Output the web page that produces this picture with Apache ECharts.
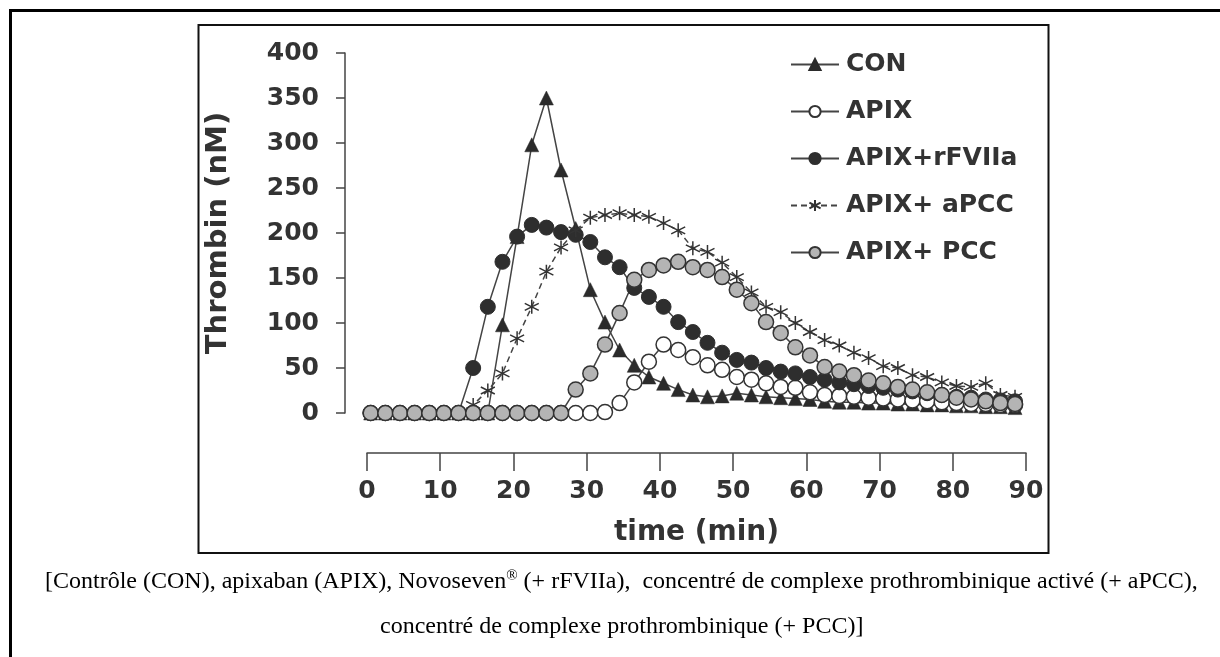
<!DOCTYPE html>
<html>
<head>
<meta charset="utf-8">
<script src="https://cdn.jsdelivr.net/npm/echarts@6/dist/echarts.min.js"></script>
<style>
html,body{margin:0;padding:0;background:#fff;}
#chart{width:1220px;height:657px;}
</style>
</head>
<body>
<div id="chart"></div>
<script>
var times = [0.5,2.5,4.5,6.5,8.5,10.5,12.5,14.5,16.5,18.5,20.5,22.5,24.5,26.5,28.5,30.5,32.5,34.5,36.5,38.5,40.5,42.5,44.5,46.5,48.5,50.5,52.5,54.5,56.5,58.5,60.5,62.5,64.5,66.5,68.5,70.5,72.5,74.5,76.5,78.5,80.5,82.5,84.5,86.5,88.5];
var seriesNames = ['CON','APIX','APIX+rFVIIa','APIX+ aPCC','APIX+ PCC'];
var conValues = [0,0,0,0,0,0,0,0,0,98,196,298,350,270,205,137,101,70,53,40,33,26,20,18,19,22,20,18,17,16,15,13,12,12,11,11,10,10,9,9,8,8,7,7,6];
var apixValues = [0,0,0,0,0,0,0,0,0,0,0,0,0,0,0,0,1,11,34,57,76,70,62,53,48,40,37,33,29,28,23,20,19,18,17,16,15,14,13,12,11,10,10,9,9];
var rfviiaValues = [0,0,0,0,0,0,0,50,118,168,196,209,206,201,198,190,173,162,139,129,118,101,90,78,67,59,56,50,46,44,40,37,34,32,30,28,26,24,22,20,18,17,15,14,13];
var apccValues = [0,0,0,0,0,0,0,9,25,44,83,118,157,184,203,217,220,222,220,218,211,203,183,179,167,151,134,118,112,100,90,81,75,67,61,52,50,42,40,34,30,29,33,20,18];
var pccValues = [0,0,0,0,0,0,0,0,0,0,0,0,0,0,26,44,76,111,148,159,164,168,162,159,151,137,122,101,89,73,64,51,46,42,36,33,29,26,23,20,17,15,13,11,10];
var yTicks = {min:0, max:400, interval:50};
var xTicks = {min:0, max:90, interval:10};
var yTitle = 'Thrombin (nM)';
var xTitle = 'time (min)';
var caption1 = '[Contrôle (CON), apixaban (APIX), Novoseven';
var caption1b = ' (+ rFVIIa),  concentré de complexe prothrombinique activé (+ aPCC),';
var caption2 = 'concentré de complexe prothrombinique (+ PCC)]';

function pairs(vals){ return times.map(function(t,i){ return [t, vals[i]]; }); }

var txt = '#333';
var lineCol = '#444';
var font = 'DejaVu Sans';
var asterisk = 'path://M5,0L5,10M0.7,2.5L9.3,7.5M9.3,2.5L0.7,7.5';

var chart = echarts.init(document.getElementById('chart'), null, {renderer:'canvas'});
chart.setOption({
  animation:false,
  backgroundColor:'#fff',
  grid:{left:367, right:194, top:53, bottom:244, containLabel:false},
  legend:{
    orient:'vertical', left:790, top:52, padding:0, itemWidth:48, itemHeight:14, itemGap:22,
    textStyle:{fontFamily:font, fontWeight:'bold', fontSize:25, color:txt, padding:[0,0,0,2]},
    data:seriesNames
  },
  xAxis:{
    type:'value', min:xTicks.min, max:xTicks.max, interval:xTicks.interval,
    offset:40,
    axisLine:{show:true, onZero:false, lineStyle:{color:lineCol, width:1.5}},
    axisTick:{show:true, inside:false, length:18, lineStyle:{color:lineCol, width:1.5}},
    axisLabel:{margin:26, fontFamily:font, fontWeight:'bold', fontSize:25, color:txt},
    splitLine:{show:false},
    name:xTitle, nameLocation:'middle', nameGap:66,
    nameTextStyle:{fontFamily:font, fontWeight:'bold', fontSize:28, color:txt}
  },
  yAxis:{
    type:'value', min:yTicks.min, max:yTicks.max, interval:yTicks.interval,
    offset:22,
    axisLine:{show:true, onZero:false, lineStyle:{color:lineCol, width:1.5}},
    axisTick:{show:true, inside:false, length:9, lineStyle:{color:lineCol, width:1.5}},
    axisLabel:{margin:26, fontFamily:font, fontWeight:'bold', fontSize:25, color:txt},
    splitLine:{show:false},
    name:yTitle, nameLocation:'middle', nameGap:112, nameRotate:90,
    nameTextStyle:{fontFamily:font, fontWeight:'bold', fontSize:29, color:txt}
  },
  series:[
    {name:seriesNames[0], type:'line', data:pairs(conValues), symbol:'triangle', symbolSize:14,
     lineStyle:{color:lineCol, width:1.5}, itemStyle:{color:'#2b2b2b', borderColor:'#2b2b2b', borderWidth:0.5}},
    {name:seriesNames[1], type:'line', data:pairs(apixValues), symbol:'circle', symbolSize:15,
     lineStyle:{color:lineCol, width:1.5}, itemStyle:{color:'#fff', borderColor:'#333', borderWidth:1.5}},
    {name:seriesNames[2], type:'line', data:pairs(rfviiaValues), symbol:'circle', symbolSize:15,
     lineStyle:{color:lineCol, width:1.5}, itemStyle:{color:'#2e2e2e', borderColor:'#2e2e2e', borderWidth:1}},
    {name:seriesNames[3], type:'line', data:pairs(apccValues), symbol:asterisk, symbolSize:14,
     lineStyle:{color:lineCol, width:1.5, type:[6,4]}, itemStyle:{color:'#333', borderColor:'#333', borderWidth:1.5}},
    {name:seriesNames[4], type:'line', data:pairs(pccValues), symbol:'circle', symbolSize:15,
     lineStyle:{color:lineCol, width:1.5}, itemStyle:{color:'#b4b4b4', borderColor:'#333', borderWidth:1.5}}
  ],
  graphic:[
    {type:'rect', shape:{x:10.5, y:10.5, width:1230, height:700}, style:{fill:'none', stroke:'#000', lineWidth:3}, silent:true},
    {type:'rect', shape:{x:198.5, y:25, width:850, height:528}, style:{fill:'none', stroke:'#111', lineWidth:2}, silent:true},
    {type:'text', left:45, top:569, style:{
      text:'{a|' + caption1 + '}{s|®}{a|' + caption1b + '}',
      rich:{a:{fontFamily:'Liberation Serif', fontSize:24, lineHeight:26, fill:'#000'}, s:{fontFamily:'Liberation Serif', fontSize:15, lineHeight:26, fill:'#000', verticalAlign:'top', padding:[0,0,10,0]}}
    }},
    {type:'text', left:380, top:614, style:{text:caption2, fontFamily:'Liberation Serif', fontSize:24, lineHeight:26, fill:'#000'}}
  ]
});
</script>
</body>
</html>
